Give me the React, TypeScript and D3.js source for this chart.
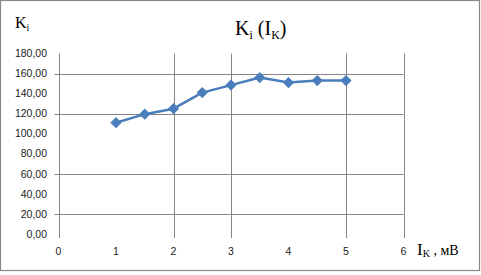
import React from "react";
import * as d3 from "d3";

const xValues = [1, 1.5, 2, 2.5, 3, 3.5, 4, 4.5, 5];
const kValues = [111, 119.5, 125, 141, 148.5, 156, 151, 153, 153];
const yTicks = [0, 20, 40, 60, 80, 100, 120, 140, 160, 180];
const xTicks = [0, 1, 2, 3, 4, 5, 6];
const hGrid = [20, 60, 120, 160];
const vGrid = [2, 3, 5, 6];

export default function App() {
  const W = 481, H = 275;
  const x = d3.scaleLinear().domain([0, 6]).range([58.5, 403.5]);
  const y = d3.scaleLinear().domain([0, 180]).range([234, 53.5]);
  const fmt = (v: number) => v.toFixed(2).replace(".", ",");
  const line = d3.line<number>().x((_, i) => x(xValues[i])).y((d) => y(d));
  const diamond = d3.symbol().type(d3.symbolSquare).size(48)();
  const grid = "#868686";
  const top = y(180);
  const bottom = 238;
  return (
    <svg width={W} height={H} style={{ position: "absolute", left: 0, top: 0 }}>
      <rect x={0} y={0} width={W} height={H} fill="#fff" />
      <rect x={0.5} y={0.5} width={479} height={270} fill="none" stroke="#868686" strokeWidth={1.2} />
      {hGrid.map((v) => (
        <line key={"h" + v} x1={x(0) - 4} x2={x(6)} y1={Math.round(y(v)) + 0.5} y2={Math.round(y(v)) + 0.5} stroke={grid} strokeWidth={1} />
      ))}
      {vGrid.map((v) => (
        <line key={"v" + v} x1={Math.round(x(v)) + 0.5} x2={Math.round(x(v)) + 0.5} y1={top} y2={bottom} stroke={grid} strokeWidth={1} />
      ))}
      <line x1={Math.round(x(0)) + 0.5} x2={Math.round(x(0)) + 0.5} y1={top} y2={bottom} stroke={grid} strokeWidth={1} />
      {yTicks.map((v) => (
        <text key={"yt" + v} x={47} y={y(v)} dy="0.35em" textAnchor="end" fontFamily="Liberation Sans, Arial, sans-serif" fontSize={10.5} fill="#222">
          {fmt(v)}
        </text>
      ))}
      {xTicks.map((v) => (
        <text key={"xt" + v} x={x(v)} y={255} textAnchor="middle" fontFamily="Liberation Sans, Arial, sans-serif" fontSize={10.5} fill="#222">
          {v}
        </text>
      ))}
      <path d={line(kValues) || ""} fill="none" stroke="#4a7ebb" strokeWidth={2.5} strokeLinejoin="round" />
      {kValues.map((v, i) => (
        <path key={"m" + i} d={diamond || ""} transform={`translate(${x(xValues[i])},${y(v)}) rotate(45)`} fill="#4a7ebb" stroke="#4a7ebb" strokeWidth={1} />
      ))}
      <text x={235} y={35} fontFamily="Liberation Serif, Times New Roman, serif" fontSize={20} fill="#000">
        K<tspan fontSize={12} dy={4}>i</tspan>
        <tspan dy={-4}> (I</tspan>
        <tspan fontSize={12} dy={4}>K</tspan>
        <tspan dy={-4}>)</tspan>
      </text>
      <text x={15} y={28} fontFamily="Liberation Serif, Times New Roman, serif" fontSize={16} fill="#000">
        K<tspan fontSize={10} dy={3}>i</tspan>
      </text>
      <text x={417} y={255} fontFamily="Liberation Serif, Times New Roman, serif" fontSize={17} fill="#000">
        I<tspan fontSize={10} dy={2}>K</tspan>
        <tspan fontSize={14} dy={-2}> , мВ</tspan>
      </text>
    </svg>
  );
}
